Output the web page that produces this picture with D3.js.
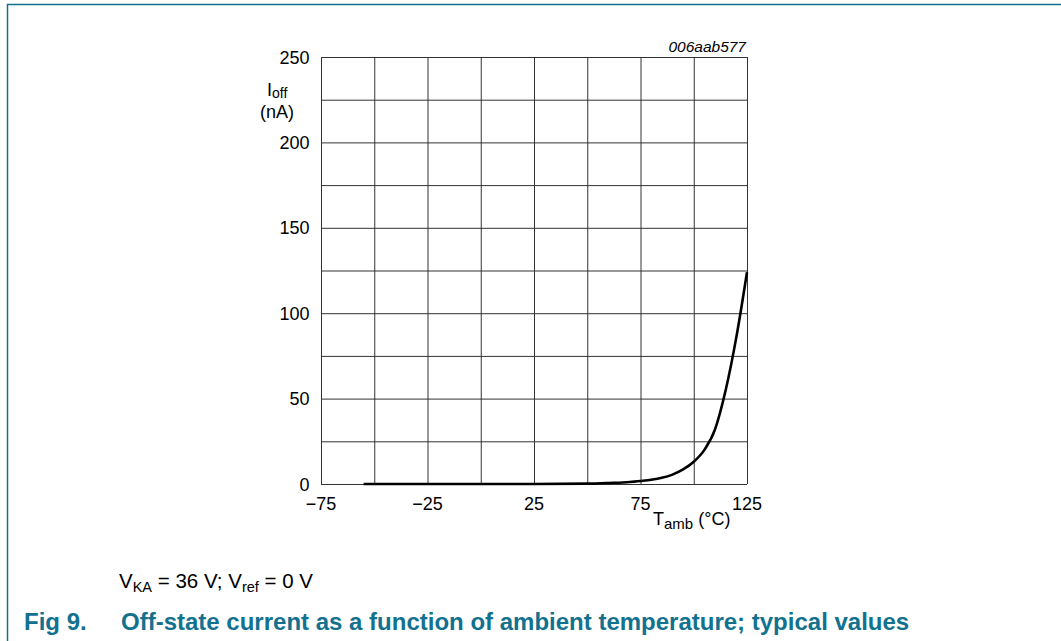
<!DOCTYPE html>
<html>
<head>
<meta charset="utf-8">
<script src="https://cdn.jsdelivr.net/npm/d3@7"></script>
<style>
  body { margin: 0; background: #fff; }
  svg { display: block; font-family: "Liberation Sans", Arial, sans-serif; }
  .grid line { stroke: #333; stroke-width: 1; }
  .grid .domain { display: none; }
</style>
</head>
<body>
<div id="chart"></div>
<script>
// data: off-state current vs ambient temperature
const temps = [-55, 0, 25, 50, 60, 70, 75, 80, 85, 90, 95, 100, 105, 110, 115, 120, 125];
const ioff  = [0, 0, 0, 0.2, 0.6, 1.2, 1.8, 2.5, 3.6, 5.5, 8.5, 13, 20, 32, 55, 86, 124];
const xTickLabels = [-75, -25, 25, 75, 125];
const yTickLabels = [0, 50, 100, 150, 200, 250];

const W = 1061, H = 641;
const margin = { top: 57, left: 321, right: 314, bottom: 157 };
const width = W - margin.left - margin.right;
const height = H - margin.top - margin.bottom;
const teal = '#137190';

const svg = d3.select('#chart').append('svg')
  .attr('width', W)
  .attr('height', H);

// page frame
svg.append('path')
  .attr('d', `M7.5,${H} V4.5 H${W}`)
  .attr('fill', 'none')
  .attr('stroke', teal)
  .attr('stroke-width', 1.5);

const chart = svg.append('g')
  .attr('transform', `translate(${margin.left},${margin.top})`);

const x = d3.scaleLinear().domain([-75, 125]).range([0, width]);
const y = d3.scaleLinear().domain([0, 250]).range([height, 0]);

// grid every 25
chart.append('g').classed('grid', true)
  .attr('transform', `translate(0,${height})`)
  .call(d3.axisBottom(x).tickValues(d3.range(-75, 126, 25)).tickSize(-height).tickFormat(''));
chart.append('g').classed('grid', true)
  .call(d3.axisLeft(y).tickValues(d3.range(0, 251, 25)).tickSize(-width).tickFormat(''));

// tick labels
chart.selectAll('.xlab')
  .data(xTickLabels)
  .enter()
  .append('text')
  .attr('x', d => x(d))
  .attr('y', height + 26)
  .attr('text-anchor', 'middle')
  .attr('font-size', 18)
  .text(d => d3.format('d')(d));

chart.selectAll('.ylab')
  .data(yTickLabels)
  .enter()
  .append('text')
  .attr('x', -11.5)
  .attr('y', d => y(d) + 6.5)
  .attr('text-anchor', 'end')
  .attr('font-size', 18)
  .text(d => d);

// curve
const pts = temps.map((t, i) => [t, ioff[i]]);
chart.append('path')
  .datum(pts)
  .attr('fill', 'none')
  .attr('stroke', '#000')
  .attr('stroke-width', 2.6)
  .attr('d', d3.line().x(d => x(d[0])).y(d => y(d[1])).curve(d3.curveMonotoneX));

// axis titles
const yt = chart.append('text')
  .attr('x', -54)
  .attr('y', 39)
  .attr('font-size', 18);
yt.append('tspan').text('I');
yt.append('tspan').attr('dy', 2).attr('font-size', 14).text('off');
chart.append('text')
  .attr('x', -44)
  .attr('y', 60.5)
  .attr('text-anchor', 'middle')
  .attr('font-size', 18)
  .text('(nA)');

const xt = chart.append('text')
  .attr('x', 332)
  .attr('y', height + 41)
  .attr('font-size', 18);
xt.append('tspan').text('T');
xt.append('tspan').attr('dy', 4).attr('font-size', 15).text('amb');
xt.append('tspan').attr('dy', -4).text(' (\u00B0C)');

chart.append('text')
  .attr('x', width - 1)
  .attr('y', -5)
  .attr('text-anchor', 'end')
  .attr('font-size', 15.5)
  .attr('font-style', 'italic')
  .text('006aab577');

// conditions + caption
const note = svg.append('text')
  .attr('x', 119)
  .attr('y', 588)
  .attr('font-size', 20.5);
note.append('tspan').text('V');
note.append('tspan').attr('dy', 4).attr('font-size', 14.5).text('KA');
note.append('tspan').attr('dy', -4).text(' = 36 V; V');
note.append('tspan').attr('dy', 4).attr('font-size', 14.5).text('ref');
note.append('tspan').attr('dy', -4).text(' = 0 V');

svg.append('text')
  .attr('x', 24)
  .attr('y', 630)
  .attr('font-size', 24)
  .attr('font-weight', 'bold')
  .attr('fill', teal)
  .text('Fig 9.');
svg.append('text')
  .attr('x', 121)
  .attr('y', 630)
  .attr('font-size', 24)
  .attr('font-weight', 'bold')
  .attr('fill', teal)
  .text('Off-state current as a function of ambient temperature; typical values');
</script>
</body>
</html>
